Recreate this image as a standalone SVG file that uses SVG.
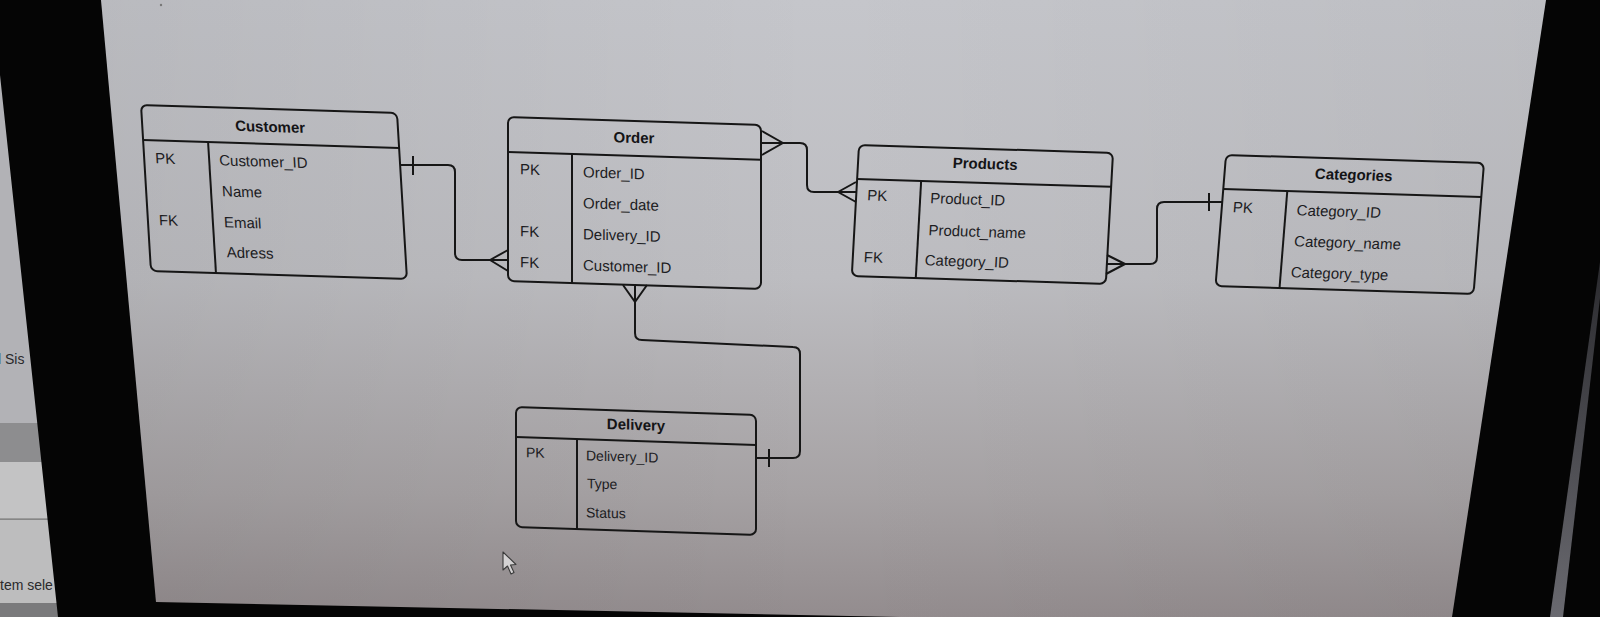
<svg xmlns="http://www.w3.org/2000/svg" width="1600" height="617" viewBox="0 0 1600 617">
<defs>
<linearGradient id="scr" x1="0" y1="0" x2="0" y2="1">
<stop offset="0" stop-color="#c5c6cb"/>
<stop offset="0.45" stop-color="#bdbdc1"/>
<stop offset="0.8" stop-color="#a6a2a4"/>
<stop offset="1" stop-color="#938c8e"/>
</linearGradient>
<linearGradient id="shade" x1="0" y1="0" x2="1" y2="0">
<stop offset="0" stop-color="#000" stop-opacity="0.06"/>
<stop offset="0.5" stop-color="#000" stop-opacity="0"/>
<stop offset="1" stop-color="#000" stop-opacity="0.04"/>
</linearGradient>
<linearGradient id="stripe" x1="0" y1="0" x2="0" y2="1">
<stop offset="0" stop-color="#2a2a2e"/>
<stop offset="1" stop-color="#6a6a70"/>
</linearGradient>
</defs>
<style>
.box{fill:none;stroke:#161616;stroke-width:2}
.ln{fill:none;stroke:#161616;stroke-width:2}
.t{font-family:"Liberation Sans",Arial,sans-serif;font-size:15px;fill:#1c1c1f}
.s{font-size:14px}
.h{font-family:"Liberation Sans",Arial,sans-serif;font-size:15px;font-weight:bold;fill:#141416;text-anchor:middle}
.side{font-family:"Liberation Sans",Arial,sans-serif;font-size:14px;fill:#2a2a2c}
.con{fill:none;stroke:#161616;stroke-width:2;stroke-linejoin:round}
</style>
<!-- photo background -->
<rect x="0" y="0" width="1600" height="617" fill="#050505"/>
<rect x="0" y="0" width="62" height="423" fill="#b2b2b6"/>
<rect x="0" y="423" width="62" height="39" fill="#8d8d8f"/>
<rect x="0" y="462" width="62" height="56" fill="#c3c3c4"/>
<rect x="0" y="518" width="62" height="1.5" fill="#9a9a9a"/>
<rect x="0" y="519.5" width="62" height="84" fill="#bdbdbe"/>
<rect x="0" y="603" width="62" height="14" fill="#7a7a7c"/>
<text class="side" x="-2" y="364">l Sis</text>
<text class="side" x="0" y="590">tem sele</text>
<polygon points="0,0 101,0 156,602 162,617 58,617 0,75" fill="#050505"/>
<polygon points="101,0 1546,0 1452,617 900,617 156,602" fill="url(#scr)"/>
<polygon points="101,0 1546,0 1452,617 900,617 156,602" fill="url(#shade)"/>
<polygon points="1600,262 1600,298 1563,617 1550,617" fill="url(#stripe)"/>
<circle cx="161" cy="5" r="1.2" fill="#777"/>

<g id="customer" transform="matrix(1 0.031 0.06 1 141 105)">
<rect class="box" x="0" y="0" width="256" height="166" rx="6"/>
<line class="ln" x1="0" y1="35" x2="256" y2="35"/>
<line class="ln" x1="65" y1="35" x2="65" y2="166"/>
<text class="h" x="128" y="23">Customer</text>
<text class="t" x="11" y="58">PK</text>
<text class="t" x="75" y="58">Customer_ID</text>
<text class="t" x="76" y="89">Name</text>
<text class="t" x="11" y="120">FK</text>
<text class="t" x="76" y="120">Email</text>
<text class="t" x="77" y="150">Adress</text>
</g>

<g id="order" transform="matrix(1 0.031 0 1 508 117)">
<rect class="box" x="0" y="0" width="253" height="164" rx="6"/>
<line class="ln" x1="0" y1="35" x2="253" y2="35"/>
<line class="ln" x1="64" y1="35" x2="64" y2="164"/>
<text class="h" x="126" y="22">Order</text>
<text class="t" x="12" y="57">PK</text>
<text class="t" x="75" y="58">Order_ID</text>
<text class="t" x="75" y="89">Order_date</text>
<text class="t" x="12" y="119">FK</text>
<text class="t" x="75" y="120">Delivery_ID</text>
<text class="t" x="12" y="150">FK</text>
<text class="t" x="75" y="151">Customer_ID</text>
</g>

<g id="products" transform="matrix(1 0.031 -0.055 1 859 145)">
<rect class="box" x="0" y="0" width="254" height="131" rx="6"/>
<line class="ln" x1="0" y1="34" x2="254" y2="34"/>
<line class="ln" x1="64" y1="34" x2="64" y2="131"/>
<text class="h" x="127" y="20">Products</text>
<text class="t" x="11" y="55">PK</text>
<text class="t" x="74" y="56">Product_ID</text>
<text class="t" x="74" y="88">Product_name</text>
<text class="t" x="11" y="117">FK</text>
<text class="t" x="72" y="118">Category_ID</text>
</g>

<g id="categories" transform="matrix(1 0.031 -0.08 1 1226 155)">
<rect class="box" x="0" y="0" width="258" height="131" rx="6"/>
<line class="ln" x1="0" y1="34" x2="258" y2="34"/>
<line class="ln" x1="64" y1="34" x2="64" y2="131"/>
<text class="h" x="129" y="21">Categories</text>
<text class="t" x="11" y="57">PK</text>
<text class="t" x="75" y="58">Category_ID</text>
<text class="t" x="75" y="89">Category_name</text>
<text class="t" x="74" y="120">Category_type</text>
</g>

<g id="delivery" transform="matrix(1 0.033 0 1 516 407)">
<rect class="box" x="0" y="0" width="240" height="120" rx="6"/>
<line class="ln" x1="0" y1="30" x2="240" y2="30"/>
<line class="ln" x1="61" y1="30" x2="61" y2="120"/>
<text class="h s" x="120" y="19">Delivery</text>
<text class="t s" x="10" y="50">PK</text>
<text class="t s" x="70" y="51">Delivery_ID</text>
<text class="t s" x="71" y="79">Type</text>
<text class="t s" x="70" y="108">Status</text>
</g>

<g id="connectors">
<!-- Customer - Order -->
<path class="con" d="M400,165 H448 Q455,165 455,172 V253 Q455,260 462,260 H508"/>
<path class="con" d="M413,156 V175"/>
<path class="con" d="M508,250 L490,260 L508,271"/>
<!-- Order - Products -->
<path class="con" d="M762,143 H800 Q807,143 807,150 V185 Q807,192 814,192 H856"/>
<path class="con" d="M762,131 L783,143 L762,155"/>
<path class="con" d="M856,182 L838,192 L856,202"/>
<!-- Products - Categories -->
<path class="con" d="M1107,264 H1150 Q1157,264 1157,257 V209 Q1157,202 1164,202 H1222"/>
<path class="con" d="M1107,255 L1125,264 L1106,274"/>
<path class="con" d="M1209,193 V211"/>
<!-- Order - Delivery -->
<path class="con" d="M635,285 V333 Q635,340 642,340 L793,347 Q800,347 800,354 V451 Q800,458 793,458 H756"/>
<path class="con" d="M623,285 L635,302 L647,285"/>
<path class="con" d="M769,449 V467"/>
</g>

<path d="M503,552 L503,570 L507.5,566 L511,574 L514,572.5 L510.5,565 L516,564.5 Z" fill="#d4d2d3" stroke="#3a3a3a" stroke-width="1.1" stroke-linejoin="round"/>
</svg>
